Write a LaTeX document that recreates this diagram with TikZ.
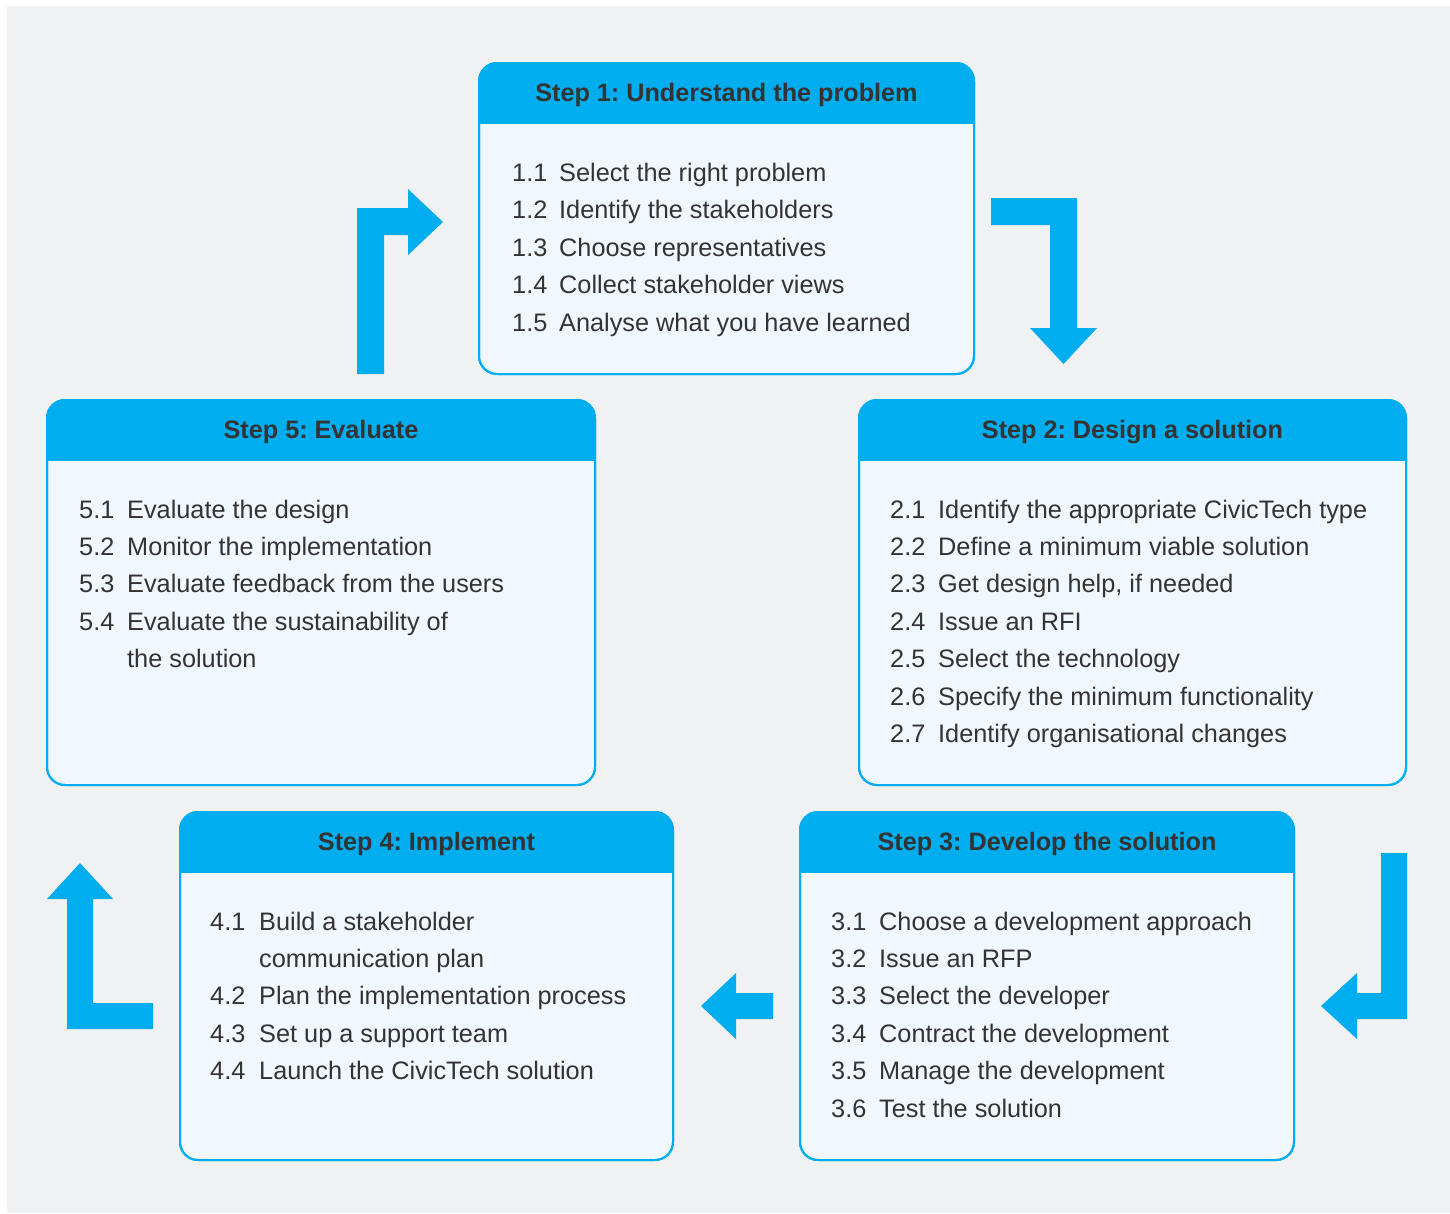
\documentclass[tikz,border=0pt]{standalone}
\usepackage{fontspec}
\setmainfont{Liberation Sans}
\usetikzlibrary{calc}
\frenchspacing
\definecolor{cblue}{HTML}{00AEEF}
\definecolor{bgcol}{HTML}{F0F1F3}
\definecolor{bodyfill}{HTML}{F0F8FE}
\definecolor{txt}{HTML}{333333}
\tikzset{
  panel/.style={draw=cblue, line width=2pt, fill=bodyfill, rounded corners=18pt, inner sep=0pt, outer sep=0pt},
  hdrtext/.style={font=\fontsize{25.2}{30}\selectfont\bfseries, text=txt, anchor=base, inner sep=0pt},
  itemtext/.style={font=\fontsize{25.3}{30}\selectfont, text=txt, anchor=base west, inner sep=0pt},
  bigarrow/.style={fill=cblue},
}
\newcommand\panelbox[6]{%
  \node[panel, minimum width={(#4-#2)*1pt}, minimum height={(#5-#3)*1pt}] (#1) at ({(#2+#4)/2},{(#3+#5)/2}) {};
  \begin{scope}
    \clip ([shift={(-3pt,3pt)}]#1.north west) rectangle ([yshift=-60pt,xshift=3pt]#1.north east);
    \fill[cblue, rounded corners=18pt] (#1.north west) rectangle (#1.south east);
  \end{scope}
  \draw[cblue, line width=2pt, rounded corners=18pt] (#1.north west) rectangle (#1.south east);
  \node[hdrtext] (#1-title) at ({(#2+#4)/2},#3+38) {#6};
}
\begin{document}
\begin{tikzpicture}[x=1pt,y=-1pt]
\useasboundingbox (0,0) rectangle (1450,1213);
\fill[bgcol] (7,6) rectangle (1450,1213);

% Step boxes
\panelbox{s1}{479}{63}{974}{374}{Step 1: Understand the problem}
\panelbox{s2}{859}{400}{1406}{785}{Step 2: Design a solution}
\panelbox{s5}{47}{400}{595}{785}{Step 5: Evaluate}
\panelbox{s4}{180}{812}{673}{1160}{Step 4: Implement}
\panelbox{s3}{800}{812}{1294}{1160}{Step 3: Develop the solution}

% Items
\foreach \n/\t [count=\i from 0] in {1.1/Select the right problem, 1.2/Identify the stakeholders, 1.3/Choose representatives, 1.4/Collect stakeholder views, 1.5/Analyse what you have learned}{
  \node[itemtext] (s1-n\i) at (512,181+\i*37.5) {\n};
  \node[itemtext] (s1-t\i) at (559,181+\i*37.5) {\t};
}
\foreach \n/\t [count=\i from 0] in {2.1/Identify the appropriate CivicTech type, 2.2/Define a minimum viable solution, 2.3/{Get design help, if needed}, 2.4/Issue an RFI, 2.5/Select the technology, 2.6/Specify the minimum functionality, 2.7/Identify organisational changes}{
  \node[itemtext] (s2-n\i) at (890,518+\i*37.4) {\n};
  \node[itemtext] (s2-t\i) at (938,518+\i*37.4) {\t};
}
\foreach \n/\t [count=\i from 0] in {5.1/Evaluate the design, 5.2/Monitor the implementation, 5.3/Evaluate feedback from the users, 5.4/Evaluate the sustainability of, /the solution}{
  \node[itemtext] (s5-n\i) at (79,518+\i*37.4) {\n};
  \node[itemtext] (s5-t\i) at (127,518+\i*37.4) {\t};
}
\foreach \n/\t [count=\i from 0] in {4.1/Build a stakeholder, /communication plan, 4.2/Plan the implementation process, 4.3/Set up a support team, 4.4/Launch the CivicTech solution}{
  \node[itemtext] (s4-n\i) at (210,930+\i*37.4) {\n};
  \node[itemtext] (s4-t\i) at (259,930+\i*37.4) {\t};
}
\foreach \n/\t [count=\i from 0] in {3.1/Choose a development approach, 3.2/Issue an RFP, 3.3/Select the developer, 3.4/Contract the development, 3.5/Manage the development, 3.6/Test the solution}{
  \node[itemtext] (s3-n\i) at (831,930+\i*37.4) {\n};
  \node[itemtext] (s3-t\i) at (879,930+\i*37.4) {\t};
}

% Bent arrows
\fill[bigarrow] (357,374) -- (357,208) -- (408,208) -- (408,189) -- (443,222) -- (408,255) -- (408,235) -- (384,235) -- (384,374) -- cycle;
\fill[bigarrow] (991,198) -- (1077,198) -- (1077,328) -- (1097,328) -- (1063.5,364) -- (1030,328) -- (1050,328) -- (1050,225) -- (991,225) -- cycle;
\fill[bigarrow] (1381,853) -- (1407,853) -- (1407,1019) -- (1357,1019) -- (1357,1039) -- (1321,1006) -- (1357,973) -- (1357,993) -- (1381,993) -- cycle;
\fill[bigarrow] (773,993) -- (773,1019) -- (736,1019) -- (736,1039) -- (701,1006) -- (736,973) -- (736,993) -- cycle;
\fill[bigarrow] (153,1029) -- (67,1029) -- (67,899) -- (47,899) -- (80,863) -- (113,899) -- (93,899) -- (93,1003) -- (153,1003) -- cycle;
\end{tikzpicture}
\end{document}
